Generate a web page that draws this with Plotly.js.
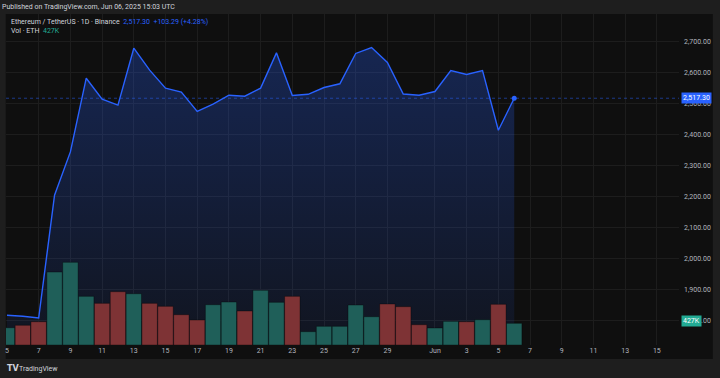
<!DOCTYPE html>
<html>
<head>
<meta charset="utf-8">
<script src="https://cdn.plot.ly/plotly-3.0.1.min.js"></script>
<style>
html,body{margin:0;padding:0;background:#1e1e1e;}
#chart{width:720px;height:378px;}
</style>
</head>
<body>
<div id="chart"></div>
<script>
const dates = ["2025-05-05","2025-05-06","2025-05-07","2025-05-08","2025-05-09","2025-05-10","2025-05-11","2025-05-12","2025-05-13","2025-05-14","2025-05-15","2025-05-16","2025-05-17","2025-05-18","2025-05-19","2025-05-20","2025-05-21","2025-05-22","2025-05-23","2025-05-24","2025-05-25","2025-05-26","2025-05-27","2025-05-28","2025-05-29","2025-05-30","2025-05-31","2025-06-01","2025-06-02","2025-06-03","2025-06-04","2025-06-05","2025-06-06"];
const closes = [1816,1813,1807,2204,2344,2582,2514,2495,2679,2608,2550,2537,2475,2498,2527,2524,2550,2664,2526,2530,2552,2564,2662,2681,2633,2531,2527,2539,2607,2594,2607,2414,2517.30];
const volumes = [340000,388000,458000,1436000,1627000,958000,820000,1049000,1009000,820000,761000,596000,492000,793000,846000,669000,1076000,840000,958000,262000,368000,368000,787000,557000,807000,754000,399000,335000,466000,458000,498000,801000,427000];
const direction = ["up","down","down","up","up","up","down","down","up","down","down","down","down","up","up","down","up","up","down","up","up","up","up","up","down","down","down","up","up","down","up","down","up"];
const tickDates = ["2025-05-05","2025-05-07","2025-05-09","2025-05-11","2025-05-13","2025-05-15","2025-05-17","2025-05-19","2025-05-21","2025-05-23","2025-05-25","2025-05-27","2025-05-29","2025-06-01","2025-06-03","2025-06-05","2025-06-07","2025-06-09","2025-06-11","2025-06-13","2025-06-15"];
const tickLabels = ["5","7","9","11","13","15","17","19","21","23","25","27","29","Jun","3","5","7","9","11","13","15"];
const priceTicks = [1800,1900,2000,2100,2200,2300,2400,2500,2600,2700];

const UP = "#1f5f59", DOWN = "#7e3335";
const lastClose = closes[closes.length-1];
const lastVol = volumes[volumes.length-1];

const volTrace = {
  type:"bar", x:dates, y:volumes, yaxis:"y2", xaxis:"x",
  marker:{color:direction.map(d=>d==="up"?UP:DOWN), line:{color:"rgba(0,0,0,0.35)", width:1}},
  width: 86400000*0.97, hoverinfo:"skip", showlegend:false
};
const areaTrace = {
  type:"scatter", mode:"lines", x:dates, y:closes,
  line:{color:"#2962ff", width:1.4},
  fill:"tozeroy",
  fillgradient:{type:"vertical", start:1720, stop:2700,
    colorscale:[[0,"rgba(41,98,255,0.07)"],[1,"rgba(41,98,255,0.28)"]]},
  hoverinfo:"skip", showlegend:false
};
const dotTrace = {
  type:"scatter", mode:"markers", x:[dates[dates.length-1]], y:[lastClose],
  marker:{color:"#2962ff", size:5}, hoverinfo:"skip", showlegend:false
};

const gridC = "#1d1d1d";
const layout = {
  width:720, height:378,
  margin:{l:6, r:41, t:14, b:33},
  paper_bgcolor:"#1e1e1e", plot_bgcolor:"rgba(0,0,0,0)",
  font:{family:"Roboto, 'Liberation Sans', sans-serif", color:"#b2b5be", size:7},
  showlegend:false, bargap:0,
  xaxis:{type:"date", range:["2025-05-04 22:30","2025-06-16 09:30"],
    tickmode:"array", tickvals:tickDates, ticktext:tickLabels,
    showgrid:true, gridcolor:gridC, gridwidth:1, zeroline:false, showline:false,
    ticks:"", tickfont:{size:7, color:"#b2b5be"}, fixedrange:true},
  yaxis:{range:[1720,2789.5], side:"right", tickmode:"array", tickvals:priceTicks,
    tickformat:",.2f", showgrid:true, gridcolor:gridC, zeroline:false, showline:false,
    ticks:"", tickfont:{size:7, color:"#b2b5be"}, ticklabelstandoff:4},
  yaxis2:{range:[0,6513000], overlaying:"y", side:"left", visible:false, showgrid:false},
  shapes:[
    {type:"rect", xref:"paper", yref:"paper", x0:-0.0004, x1:1.0502, y0:-0.0423, y1:1.0, layer:"below",
      fillcolor:"#0f0f0f", line:{width:0}},
    {type:"line", xref:"paper", yref:"y", x0:0, x1:1, y0:lastClose, y1:lastClose,
      line:{color:"rgba(41,98,255,0.5)", width:1, dash:"dot"}}
  ],
  annotations:[
    {xref:"paper", yref:"paper", x:-0.0085, y:1.0211, xanchor:"left", yanchor:"middle", showarrow:false,
      text:"Published on TradingView.com, Jun 06, 2025 15:03 UTC", font:{size:7, color:"#d1d4dc"}},
    {xref:"paper", yref:"paper", x:0.005, y:0.975, xanchor:"left", yanchor:"middle", showarrow:false,
      text:"Ethereum / TetherUS · 1D · Binance  <span style='color:#2962ff'>2,517.30  +103.29 (+4.28%)</span>",
      font:{size:7, color:"#d1d4dc"}},
    {xref:"paper", yref:"paper", x:0.005, y:0.948, xanchor:"left", yanchor:"middle", showarrow:false,
      text:"Vol · ETH  <span style='color:#22ab94'>427K</span>", font:{size:7, color:"#d1d4dc"}},
    {xref:"paper", yref:"y", x:1, y:lastClose, xanchor:"left", yanchor:"middle", xshift:2, showarrow:false,
      text:"2,517.30", bgcolor:"#2962ff", borderpad:1, font:{size:7, color:"#ffffff"}},
    {xref:"paper", yref:"y2", x:1, y:lastVol+40000, xanchor:"left", yanchor:"middle", xshift:2, showarrow:false,
      text:"427K", bgcolor:"#22ab94", borderpad:1, font:{size:7, color:"#ffffff"}},
    {xref:"paper", yref:"paper", x:-0.0015, y:-0.0725, xanchor:"left", yanchor:"middle", showarrow:false,
      text:"<b>TV</b>", font:{size:8, color:"#d1d4dc", family:"'DejaVu Sans', sans-serif"}},
    {xref:"paper", yref:"paper", x:0.016, y:-0.0725, xanchor:"left", yanchor:"middle", showarrow:false,
      text:"TradingView", font:{size:7, color:"#d1d4dc"}}
  ]
};
Plotly.newPlot("chart", [volTrace, areaTrace, dotTrace], layout, {staticPlot:true, displayModeBar:false});
</script>
</body>
</html>
